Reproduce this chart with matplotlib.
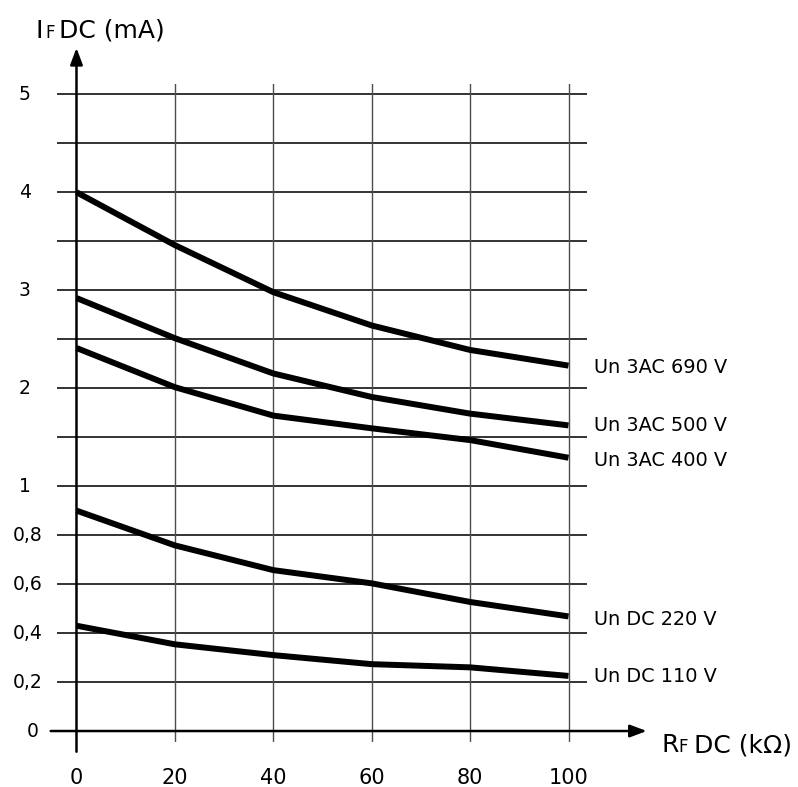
import numpy as np
import matplotlib
matplotlib.use('Agg')
import matplotlib.pyplot as plt
from matplotlib import transforms

plt.rcParams['font.family'] = ['DejaVu Sans']

# data
r_kohm = [0, 20, 40, 60, 80, 100]
i_690 = [4.00, 3.46, 2.98, 2.64, 2.39, 2.23]
i_500 = [2.92, 2.51, 2.15, 1.91, 1.74, 1.62]
i_400 = [2.41, 2.01, 1.72, 1.59, 1.47, 1.29]
i_220 = [0.90, 0.758, 0.657, 0.603, 0.527, 0.468]
i_110 = [0.43, 0.354, 0.31, 0.273, 0.26, 0.225]
curve_labels = ['Un 3AC 690 V', 'Un 3AC 500 V', 'Un 3AC 400 V', 'Un DC 220 V', 'Un DC 110 V']
label_y = [2.21, 1.62, 1.26, 0.455, 0.222]

x_ticks = [0, 20, 40, 60, 80, 100]
y_ticks = [0, 0.2, 0.4, 0.6, 0.8, 1, 2, 3, 4, 5]
y_tick_labels = ['0', '0,2', '0,4', '0,6', '0,8', '1', '2', '3', '4', '5']
h_grid = [0.2, 0.4, 0.6, 0.8, 1, 1.5, 2, 2.5, 3, 3.5, 4, 4.5, 5]


# y axis is stretched below 1 mA
def fwd(y):
    y = np.asarray(y, dtype=float)
    return np.where(y <= 1, 2.5 * y, y + 1.5)


def inv(t):
    t = np.asarray(t, dtype=float)
    return np.where(t <= 2.5, t / 2.5, t - 1.5)


W, H = 798, 787
fig = plt.figure(figsize=(W / 100, H / 100), dpi=100)
ax = fig.add_axes([57 / W, 1 - 741.7 / H, (587 - 57) / W, (741.7 - 84) / H])
ax.set_yscale('function', functions=(fwd, inv))
ax.set_xlim(-3.96, 103.76)
ax.set_ylim(float(inv(-0.109)), float(inv(6.605)))
ax.axis('off')

for v in h_grid:
    ax.axhline(v, color='#111111', lw=1.2, zorder=1)
for v in x_ticks[1:]:
    ax.axvline(v, color='#4d4d4d', lw=1.0, zorder=1)

arrow = dict(arrowstyle='-|>,head_length=0.4,head_width=0.15', mutation_scale=25,
             color='black', lw=1.8, shrinkA=0, shrinkB=0)
ax.annotate('', xy=(0, 5.473), xytext=(0, -0.0845), arrowprops=arrow, annotation_clip=False)
ax.annotate('', xy=(115.9, 0), xytext=(-5.24, 0), arrowprops=arrow, annotation_clip=False)

for vals in [i_690, i_500, i_400, i_220, i_110]:
    ax.plot(r_kohm, vals, color='black', lw=4.3, solid_capstyle='butt',
            solid_joinstyle='round', zorder=3, clip_on=False)

for txt, y in zip(curve_labels, label_y):
    ax.text(105.2, y, txt, fontsize=13.9, ha='left', va='center', clip_on=False)

# tick labels
ytr = transforms.blended_transform_factory(fig.transFigure, ax.transData)
for v, lab in zip(y_ticks, y_tick_labels):
    if ',' in lab:
        ax.text(43 / W, v, lab, transform=ytr, fontsize=13.5, ha='right', va='center')
    elif lab == '0':
        ax.text(38.5 / W, v, lab, transform=ytr, fontsize=13.5, ha='right', va='center')
    else:
        ax.text(19 / W, v, lab, transform=ytr, fontsize=13.5, ha='left', va='center')

xtr = transforms.blended_transform_factory(ax.transData, fig.transFigure)
for v in x_ticks:
    ax.text(v, 1 - 784 / H, str(v), transform=xtr, fontsize=15, ha='center', va='baseline')

# axis titles with small-cap subscript F
fig.text(36 / W, 1 - 37.5 / H, 'I', fontsize=18, va='baseline')
fig.text(45.5 / W, 1 - 37.5 / H, 'F', fontsize=12, va='baseline')
fig.text(59 / W, 1 - 37.5 / H, 'DC (mA)', fontsize=18, va='baseline')
fig.text(662 / W, 1 - 752 / H, 'R', fontsize=18, va='baseline')
fig.text(678 / W, 1 - 752 / H, 'F', fontsize=12, va='baseline')
fig.text(694 / W, 1 - 752 / H, 'DC (kΩ)', fontsize=18, va='baseline')

fig.savefig('out.png', dpi=100)
